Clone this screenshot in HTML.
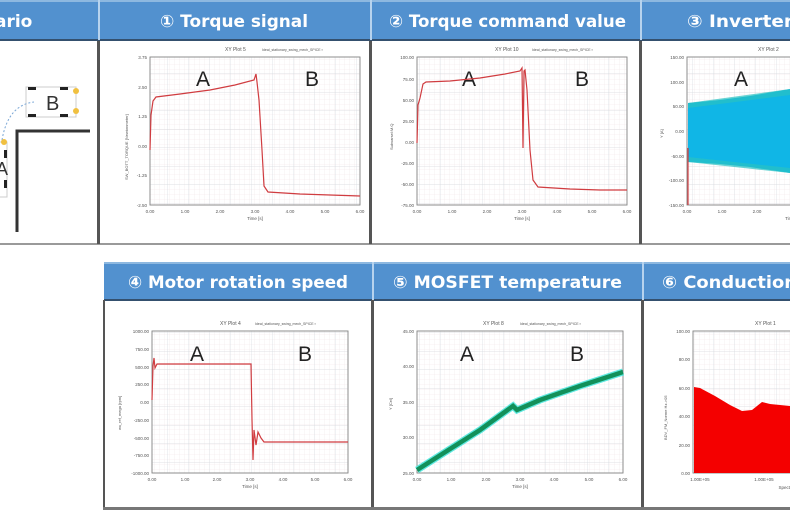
<!DOCTYPE html>
<html><head><meta charset="utf-8"><style>
html,body{margin:0;padding:0;background:#fff;}
body{width:790px;height:510px;overflow:hidden;position:relative;font-family:"Liberation Sans",sans-serif;}
svg{position:absolute;left:0;top:0;}
</style></head><body>
<svg width="790" height="510" viewBox="0 0 790 510" xmlns="http://www.w3.org/2000/svg" font-family="Liberation Sans, sans-serif">
<defs>
<pattern id="g" width="5" height="5" patternUnits="userSpaceOnUse"><path d="M5 0V5M0 5H5" stroke="#f1e6e8" stroke-width="0.6" fill="none"/></pattern>
<pattern id="G" width="21" height="18.5" patternUnits="userSpaceOnUse"><path d="M21 0V18.5M0 18.5H21" stroke="#d6d9de" stroke-width="0.7" fill="none"/></pattern>
</defs>
<!-- top header -->
<rect x="0" y="0" width="790" height="40" fill="#5291cf"/>
<rect x="0" y="0" width="790" height="2" fill="#8db8e0"/>
<rect x="0" y="39" width="790" height="2" fill="#34506e"/>
<g fill="#fff" font-weight="bold" font-size="17" font-family="DejaVu Sans, sans-serif">
<text x="-5" y="27">ario</text>
<text x="160" y="27" textLength="148" lengthAdjust="spacingAndGlyphs">① Torque signal</text>
<text x="389" y="27" textLength="237" lengthAdjust="spacingAndGlyphs">② Torque command value</text>
<text x="687" y="27" textLength="106" lengthAdjust="spacingAndGlyphs">③ Inverter</text>
</g>
<g fill="#b7d3ee"><rect x="98" y="0" width="2" height="40"/><rect x="370" y="0" width="2" height="40"/><rect x="640" y="0" width="2" height="40"/></g>
<!-- top panels borders -->
<rect x="0" y="243" width="790" height="2" fill="#9a9a9a"/>
<g fill="#555"><rect x="97" y="41" width="3" height="203"/><rect x="369" y="41" width="3" height="203"/><rect x="639" y="41" width="3" height="203"/></g>
<!-- scenario -->
<path d="M17 232V131H90" stroke="#333" stroke-width="3" fill="none"/>
<rect x="26" y="87" width="50" height="30" fill="#fff" stroke="#ccc"/>
<g fill="#222"><rect x="28" y="87" width="8" height="3"/><rect x="60" y="87" width="8" height="3"/><rect x="28" y="114" width="8" height="3"/><rect x="60" y="114" width="8" height="3"/></g>
<circle cx="76" cy="91" r="3" fill="#f0c040"/><circle cx="76" cy="111" r="3" fill="#f0c040"/>
<text x="46" y="110" font-size="20" fill="#333">B</text>
<path d="M2 140Q8 105 34 102" stroke="#7aa7d6" stroke-dasharray="2 2" fill="none"/>
<rect x="-6" y="142" width="13" height="55" fill="#fff" stroke="#ccc"/>
<circle cx="4" cy="142" r="3" fill="#f0c040"/>
<rect x="4" y="150" width="3" height="8" fill="#222"/><rect x="4" y="180" width="3" height="8" fill="#222"/>
<text x="-4" y="175" font-size="18" fill="#333">A</text>
<!-- bottom header -->
<rect x="104" y="262" width="686" height="38" fill="#5291cf"/>
<rect x="104" y="262" width="686" height="2" fill="#8db8e0"/>
<rect x="104" y="299" width="686" height="2" fill="#34506e"/>
<g fill="#b7d3ee"><rect x="372" y="262" width="2" height="38"/><rect x="642" y="262" width="2" height="38"/></g>
<g fill="#fff" font-weight="bold" font-size="17" font-family="DejaVu Sans, sans-serif">
<text x="128" y="288" textLength="220" lengthAdjust="spacingAndGlyphs">④ Motor rotation speed</text>
<text x="393" y="288" textLength="229" lengthAdjust="spacingAndGlyphs">⑤ MOSFET temperature</text>
<text x="662" y="288" textLength="135" lengthAdjust="spacingAndGlyphs">⑥ Conduction</text>
</g>
<g fill="#555"><rect x="103" y="300" width="2" height="210"/><rect x="371" y="300" width="3" height="210"/><rect x="641" y="300" width="3" height="210"/></g>
<rect x="103" y="507" width="687" height="3" fill="#777"/>
<!-- plot frames -->
<g stroke="#888" stroke-width="0.8">
<rect x="150" y="57" width="210" height="148" fill="url(#g)"/><rect x="150" y="57" width="210" height="148" fill="url(#G)"/>
<rect x="417" y="57" width="210" height="148" fill="url(#g)"/><rect x="417" y="57" width="210" height="148" fill="url(#G)"/>
<rect x="687" y="57" width="110" height="148" fill="url(#g)"/><rect x="687" y="57" width="110" height="148" fill="url(#G)"/>
<rect x="152" y="331" width="196" height="142" fill="url(#g)"/><rect x="152" y="331" width="196" height="142" fill="url(#G)"/>
<rect x="417" y="331" width="206" height="142" fill="url(#g)"/><rect x="417" y="331" width="206" height="142" fill="url(#G)"/>
<rect x="693" y="331" width="110" height="142" fill="url(#g)"/><rect x="693" y="331" width="110" height="142" fill="url(#G)"/>
</g>
<!-- small labels -->
<g font-size="5" fill="#555">
<text x="225" y="51">XY Plot 5</text><text x="262" y="51" font-size="3.5">Ideal_stationary_swing_mech_SPICE ▪</text>
<text x="495" y="51">XY Plot 10</text><text x="532" y="51" font-size="3.5">Ideal_stationary_swing_mech_SPICE ▪</text>
<text x="758" y="51">XY Plot 2</text>
<text x="220" y="325">XY Plot 4</text><text x="255" y="325" font-size="3.5">Ideal_stationary_swing_mech_SPICE ▪</text>
<text x="483" y="325">XY Plot 8</text><text x="520" y="325" font-size="3.5">Ideal_stationary_swing_mech_SPICE ▪</text>
<text x="755" y="325">XY Plot 1</text>
</g>
<g font-size="4.5" fill="#555" text-anchor="end">
<text x="147" y="59">3.75</text><text x="147" y="89">2.50</text><text x="147" y="118">1.25</text><text x="147" y="148">0.00</text><text x="147" y="177">-1.25</text><text x="147" y="207">-2.50</text>
<text x="414" y="59">100.00</text><text x="414" y="81">75.00</text><text x="414" y="102">50.00</text><text x="414" y="123">25.00</text><text x="414" y="144">0.00</text><text x="414" y="165">-25.00</text><text x="414" y="186">-50.00</text><text x="414" y="207">-75.00</text>
<text x="684" y="59">150.00</text><text x="684" y="84">100.00</text><text x="684" y="108">50.00</text><text x="684" y="133">0.00</text><text x="684" y="158">-50.00</text><text x="684" y="182">-100.00</text><text x="684" y="207">-150.00</text>
<text x="149" y="333">1000.00</text><text x="149" y="351">750.00</text><text x="149" y="369">500.00</text><text x="149" y="386">250.00</text><text x="149" y="404">0.00</text><text x="149" y="422">-250.00</text><text x="149" y="440">-500.00</text><text x="149" y="457">-750.00</text><text x="149" y="475">-1000.00</text>
<text x="414" y="333">45.00</text><text x="414" y="368">40.00</text><text x="414" y="404">35.00</text><text x="414" y="439">30.00</text><text x="414" y="475">25.00</text>
<text x="690" y="333">100.00</text><text x="690" y="361">80.00</text><text x="690" y="390">60.00</text><text x="690" y="418">40.00</text><text x="690" y="447">20.00</text><text x="690" y="475">0.00</text>
</g>
<g font-size="4.5" fill="#555" text-anchor="middle">
<text x="150" y="213">0.00</text><text x="185" y="213">1.00</text><text x="220" y="213">2.00</text><text x="255" y="213">3.00</text><text x="290" y="213">4.00</text><text x="325" y="213">5.00</text><text x="360" y="213">6.00</text><text x="255" y="220">Time [s]</text>
<text x="417" y="213">0.00</text><text x="452" y="213">1.00</text><text x="487" y="213">2.00</text><text x="522" y="213">3.00</text><text x="557" y="213">4.00</text><text x="592" y="213">5.00</text><text x="627" y="213">6.00</text><text x="522" y="220">Time [s]</text>
<text x="687" y="213">0.00</text><text x="722" y="213">1.00</text><text x="757" y="213">2.00</text><text x="790" y="220">Time</text>
<text x="152" y="481">0.00</text><text x="185" y="481">1.00</text><text x="217" y="481">2.00</text><text x="250" y="481">3.00</text><text x="283" y="481">4.00</text><text x="315" y="481">5.00</text><text x="348" y="481">6.00</text><text x="250" y="488">Time [s]</text>
<text x="417" y="481">0.00</text><text x="451" y="481">1.00</text><text x="486" y="481">2.00</text><text x="520" y="481">3.00</text><text x="554" y="481">4.00</text><text x="589" y="481">5.00</text><text x="623" y="481">6.00</text><text x="520" y="488">Time [s]</text>
<text x="700" y="481">1.00E+05</text><text x="764" y="481">1.00E+05</text><text x="785" y="489">Spectr</text>
</g>
<g font-size="4" fill="#555">
<text transform="translate(128,180) rotate(-90)">SW_BOTT_TORQUE [Newtonmeter]</text>
<text transform="translate(393,150) rotate(-90)">Subvarsel:M.Q</text>
<text transform="translate(663,138) rotate(-90)">Y [A]</text>
<text transform="translate(121,430) rotate(-90)">wx_ref_mega [rpm]</text>
<text transform="translate(392,410) rotate(-90)">Y [Cel]</text>
<text transform="translate(667,440) rotate(-90)">BDV_FM_Norme Hz-&gt;05</text>
</g>
<!-- A/B -->
<g font-size="21" fill="#222">
<text x="196" y="86">A</text><text x="305" y="86">B</text>
<text x="462" y="86">A</text><text x="575" y="86">B</text>
<text x="734" y="86">A</text>
<text x="190" y="361">A</text><text x="298" y="361">B</text>
<text x="460" y="361">A</text><text x="570" y="361">B</text>
</g>
<!-- series -->
<polyline fill="none" stroke="#d03c40" stroke-width="1.2" points="150,150 151,115 153,101 156,97 180,94 210,90 235,85 254,80 256,74 257,82 259,100 262,150 264,186 268,192 300,194 330,195 360,196"/>
<polyline fill="none" stroke="#d03c40" stroke-width="1.2" points="417,143 418,105 420,98 423,84 426,82 450,81 480,78 505,74 520,71 522,68 523,148 524,71 525,70 527,90 530,150 533,180 538,187 570,189 600,190 627,190"/>
<path d="M688,103 L720,100 L750,96 L790,89 L790,173 L750,167 L720,164 L688,162 Z" fill="#10b6e6"/>
<path d="M688,103 L790,89 L790,95 L688,108 Z M688,162 L790,173 L790,168 L688,157 Z" fill="#29c2c2" opacity="0.7"/>
<line x1="688" y1="148" x2="688" y2="205" stroke="#d03c40" stroke-width="1.2"/>
<polyline fill="none" stroke="#d03c40" stroke-width="1.2" points="152,400 153,366 154,358 155,368 157,364 251,364 252,420 253,460 254,430 256,445 258,432 261,438 264,442 348,442"/>
<polyline fill="none" stroke="#5ee8e0" stroke-width="7" points="417,470 450,449 480,430 513,406 517,410 540,400 580,386 623,372"/>
<polyline fill="none" stroke="#12905a" stroke-width="4.5" points="417,470 450,449 480,430 513,406 517,410 540,400 580,386 623,372"/>
<path d="M694,473 L694,387 L700,388 L715,396 L730,405 L742,411 L752,410 L762,402 L770,404 L790,406 L790,473 Z" fill="#f40000"/>
</svg>
</body></html>
